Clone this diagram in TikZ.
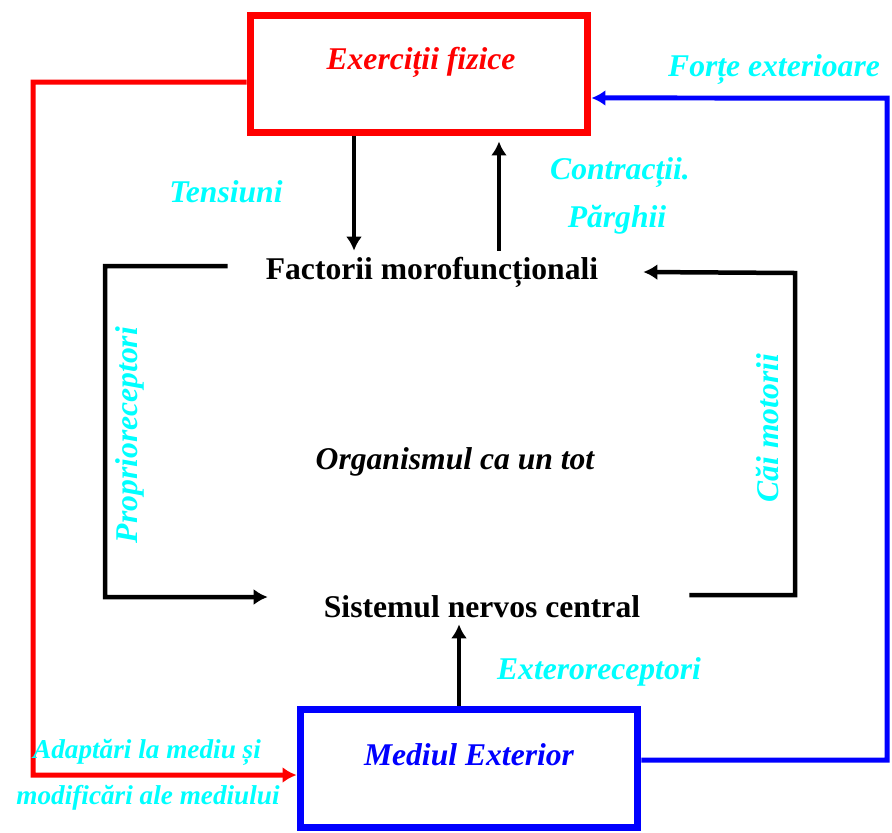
\documentclass[tikz,border=0pt]{standalone}
\usepackage{fontspec}
\setmainfont{Liberation Serif}
\usepackage{tikz}
\usetikzlibrary{arrows.meta}

\definecolor{notecyan}{RGB}{0,255,255}

\begin{document}
\begin{tikzpicture}[
    x=0.02cm,
    y=-0.02cm,
    >={Latex[length=0.28cm, width=0.32cm]},
    box/.style={
        draw,
        line width=0.14cm,
        minimum width=6.76cm,
        minimum height=2.36cm
    },
    heading/.style={
        font=\fontsize{18}{20}\selectfont\bfseries\itshape
    },
    factor/.style={
        font=\fontsize{18}{20}\selectfont\bfseries
    },
    note/.style={
        text=notecyan,
        font=\fontsize{18}{20}\selectfont\bfseries\itshape
    },
    smallnote/.style={
        note,
        font=\fontsize{15.5}{18}\selectfont\bfseries\itshape
    },
    link/.style={
        line width=0.09cm
    },
    outerlink/.style={
        line width=0.1cm
    }
]

    \useasboundingbox (0,0) rectangle (892,832);

    % Boxes
    \node[box, red] (ex) at (419,74) {};
    \node[box, blue] (med) at (469,768) {};

    \node[heading, red] (exlbl) at (421,62) {Exerciții fizice};
    \node[heading, blue] (medlbl) at (469,755) {Mediul Exterior};

    % Inner levels
    \node[factor] (fm) at (432,272) {Factorii morofuncționali};
    \node[factor] (snc) at (482,607) {Sistemul nervos central};
    \node[heading] (org) at (455,462) {Organismul ca un tot};

    \coordinate (lt) at (33,775);
    \coordinate (rt) at (887,98);
    \coordinate (lb) at (105,597);
    \coordinate (rb) at (795,273);

    % Connections
    \draw[link, ->] ([xshift=-1.3cm]ex.south)
        -- ([xshift=-1.3cm]ex.south |- fm.north);
    \draw[link, ->] ([xshift=1.6cm]ex.south |- fm.north)
        -- ([xshift=1.6cm, yshift=-0.1cm]ex.south);

    \draw[link, ->] ([xshift=-0.64cm, yshift=0.12cm]fm.west)
        -| (lb) -- ([xshift=-1.0cm, yshift=0.2cm]snc.west);
    \draw[link, ->] ([xshift=0.86cm, yshift=0.24cm]snc.east)
        -| (rb) -- ([xshift=0.78cm, yshift=0cm]fm.east);

    \draw[link, ->] ([xshift=-0.2cm]med.north)
        -- ([xshift=-0.2cm]med.north |- snc.south);

    \draw[outerlink, red, ->] ([yshift=-0.16cm]ex.west)
        -| (lt) -- ([yshift=-0.14cm]med.west);
    \draw[outerlink, blue, ->] ([yshift=0.16cm]med.east)
        -| (rt) -- ([yshift=-0.48cm]ex.east);

    % Labels
    \node[note] (fe) at (774,70) {Forțe exterioare};
    \node[note] (tens) at (226,192) {Tensiuni};
    \node[note] (contr) at (620,173) {Contracții.};
    \node[note] (parg) at (617,220) {Părghii};
    \node[note, rotate=90] (prop) at (130,435) {Proprioreceptori};
    \node[note, rotate=90] (cai) at (768,428) {Căi motorii};
    \node[note] (extr) at (599,672) {Exteroreceptori};
    \node[smallnote] (adapt) at (147,752) {Adaptări la mediu și};
    \node[smallnote] (modif) at (148,798) {modificări ale mediului};

\end{tikzpicture}
\end{document}
